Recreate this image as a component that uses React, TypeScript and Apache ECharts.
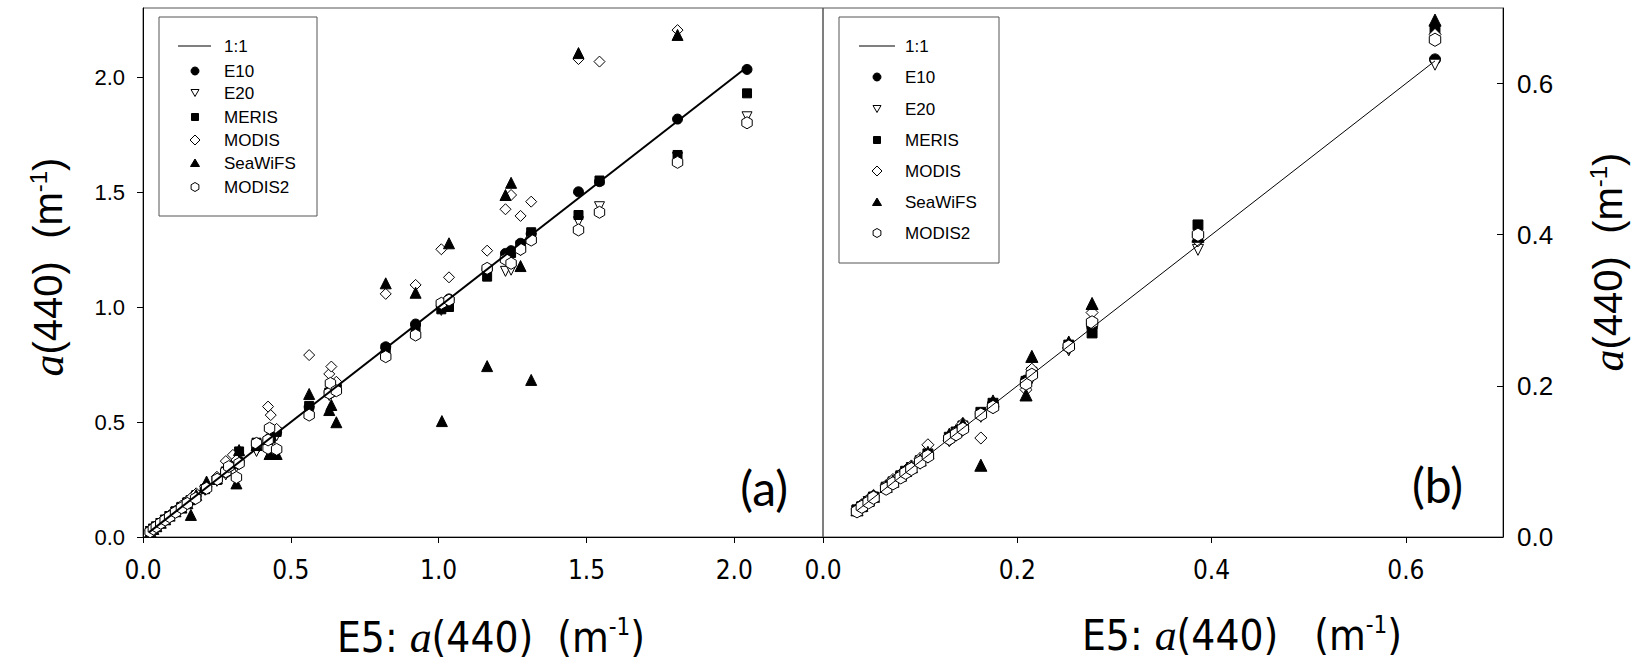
import React, { useEffect, useRef } from 'react';
import * as echarts from 'echarts';

// ---------- Panel (a) data: [E5 a(440), product a(440)] ----------
const lineA: number[][] = [[0.02, 0.02], [2.04, 2.04]];
const e10A: number[][] = [[0.025,0.025],[0.035,0.036],[0.045,0.046],[0.06,0.06],[0.075,0.076],[0.09,0.09],[0.11,0.11],[0.13,0.13],[0.15,0.15],[0.162,0.163],[0.18,0.18],[0.21,0.21],[0.25,0.25],[0.28,0.28],[0.316,0.316],[0.325,0.33],[0.384,0.39],[0.423,0.42],[0.432,0.43],[0.452,0.455],[0.562,0.565],[0.63,0.63],[0.637,0.64],[0.654,0.655],[0.821,0.827],[0.922,0.926],[1.009,1.0],[1.035,1.035],[1.164,1.165],[1.226,1.233],[1.245,1.245],[1.277,1.277],[1.313,1.318],[1.473,1.501],[1.544,1.545],[1.808,1.817],[2.043,2.033]];
const e20A: number[][] = [[0.025,0.024],[0.035,0.034],[0.045,0.044],[0.06,0.058],[0.075,0.073],[0.09,0.088],[0.11,0.107],[0.13,0.126],[0.15,0.145],[0.162,0.157],[0.18,0.174],[0.21,0.203],[0.25,0.242],[0.28,0.27],[0.316,0.305],[0.325,0.315],[0.384,0.372],[0.423,0.41],[0.432,0.418],[0.452,0.44],[0.562,0.548],[0.63,0.615],[0.637,0.622],[0.654,0.64],[0.821,0.80],[0.922,0.90],[1.009,0.985],[1.035,1.01],[1.164,1.14],[1.226,1.155],[1.245,1.16],[1.277,1.245],[1.313,1.30],[1.473,1.371],[1.544,1.436],[1.808,1.65],[2.043,1.827]];
const merisA: number[][] = [[0.025,0.026],[0.035,0.036],[0.045,0.045],[0.06,0.061],[0.075,0.075],[0.09,0.091],[0.11,0.112],[0.13,0.131],[0.15,0.151],[0.162,0.16],[0.18,0.182],[0.21,0.208],[0.25,0.248],[0.28,0.285],[0.316,0.318],[0.325,0.372],[0.384,0.41],[0.423,0.415],[0.432,0.428],[0.452,0.457],[0.562,0.57],[0.63,0.628],[0.637,0.632],[0.654,0.648],[0.821,0.82],[0.922,0.912],[1.009,0.99],[1.035,1.0],[1.164,1.132],[1.226,1.22],[1.245,1.235],[1.277,1.27],[1.313,1.325],[1.473,1.40],[1.544,1.55],[1.808,1.661],[2.043,1.929]];
const modisA: number[][] = [[0.025,0.027],[0.035,0.04],[0.045,0.05],[0.06,0.064],[0.075,0.08],[0.09,0.095],[0.11,0.115],[0.13,0.137],[0.15,0.158],[0.162,0.17],[0.18,0.19],[0.21,0.22],[0.25,0.262],[0.28,0.33],[0.304,0.357],[0.316,0.335],[0.384,0.40],[0.423,0.567],[0.432,0.53],[0.452,0.47],[0.562,0.791],[0.63,0.709],[0.637,0.741],[0.654,0.675],[0.821,1.057],[0.922,1.096],[1.009,1.251],[1.035,1.129],[1.164,1.245],[1.226,1.425],[1.245,1.487],[1.277,1.396],[1.313,1.458],[1.473,2.078],[1.544,2.067],[1.808,2.204]];
const seawifsA: number[][] = [[0.025,0.025],[0.035,0.035],[0.045,0.047],[0.06,0.062],[0.075,0.077],[0.09,0.093],[0.11,0.112],[0.13,0.128],[0.15,0.147],[0.162,0.096],[0.18,0.183],[0.215,0.241],[0.25,0.255],[0.28,0.30],[0.316,0.233],[0.325,0.378],[0.384,0.40],[0.428,0.361],[0.452,0.361],[0.562,0.622],[0.63,0.552],[0.637,0.574],[0.654,0.499],[0.821,1.103],[0.922,1.062],[1.011,0.504],[1.035,1.277],[1.164,0.743],[1.226,1.487],[1.245,1.54],[1.277,1.178],[1.313,0.683],[1.473,2.104],[1.808,2.183]];
const modis2A: number[][] = [[0.024,0.023],[0.035,0.035],[0.045,0.045],[0.06,0.06],[0.075,0.074],[0.09,0.088],[0.11,0.108],[0.13,0.127],[0.15,0.146],[0.178,0.168],[0.215,0.212],[0.251,0.251],[0.28,0.284],[0.29,0.306],[0.316,0.259],[0.325,0.32],[0.384,0.407],[0.423,0.386],[0.423,0.422],[0.428,0.473],[0.452,0.381],[0.562,0.53],[0.63,0.625],[0.634,0.668],[0.654,0.636],[0.821,0.784],[0.922,0.878],[1.009,1.016],[1.035,1.03],[1.164,1.168],[1.226,1.207],[1.245,1.19],[1.277,1.251],[1.313,1.291],[1.473,1.335],[1.544,1.412],[1.808,1.629],[2.043,1.801]];

// ---------- Panel (b) data ----------
const lineB: number[][] = [[0.035, 0.035], [0.63, 0.63]];
const e10B: number[][] = [[0.035,0.035],[0.04,0.041],[0.047,0.048],[0.052,0.053],[0.065,0.066],[0.072,0.072],[0.08,0.081],[0.085,0.086],[0.091,0.092],[0.1,0.1],[0.108,0.109],[0.13,0.131],[0.137,0.138],[0.144,0.146],[0.1625,0.163],[0.175,0.176],[0.209,0.207],[0.215,0.216],[0.253,0.253],[0.277,0.279],[0.386,0.40],[0.63,0.632]];
const e20B: number[][] = [[0.035,0.034],[0.04,0.039],[0.047,0.046],[0.052,0.051],[0.065,0.063],[0.072,0.07],[0.08,0.078],[0.085,0.083],[0.091,0.089],[0.1,0.097],[0.108,0.105],[0.13,0.127],[0.137,0.134],[0.144,0.141],[0.1625,0.159],[0.175,0.171],[0.209,0.20],[0.215,0.21],[0.253,0.247],[0.277,0.275],[0.386,0.38],[0.63,0.625]];
const merisB: number[][] = [[0.035,0.036],[0.04,0.04],[0.047,0.047],[0.052,0.053],[0.065,0.066],[0.072,0.073],[0.08,0.081],[0.085,0.087],[0.091,0.092],[0.1,0.101],[0.108,0.11],[0.13,0.132],[0.137,0.139],[0.144,0.147],[0.1625,0.165],[0.175,0.177],[0.209,0.206],[0.215,0.218],[0.253,0.254],[0.277,0.27],[0.386,0.413],[0.63,0.672]];
const modisB: number[][] = [[0.035,0.037],[0.04,0.043],[0.047,0.05],[0.052,0.055],[0.065,0.068],[0.072,0.076],[0.08,0.083],[0.085,0.088],[0.091,0.094],[0.1,0.104],[0.108,0.122],[0.13,0.128],[0.137,0.14],[0.144,0.15],[0.1625,0.131],[0.175,0.172],[0.209,0.195],[0.215,0.222],[0.253,0.25],[0.277,0.297],[0.386,0.392],[0.63,0.665]];
const seawifsB: number[][] = [[0.035,0.036],[0.04,0.042],[0.047,0.049],[0.052,0.054],[0.065,0.067],[0.072,0.074],[0.08,0.082],[0.085,0.088],[0.091,0.093],[0.1,0.102],[0.108,0.112],[0.13,0.136],[0.137,0.141],[0.144,0.15],[0.1625,0.095],[0.175,0.18],[0.209,0.188],[0.215,0.239],[0.253,0.258],[0.277,0.309],[0.386,0.398],[0.63,0.684]];
const modis2B: number[][] = [[0.035,0.034],[0.04,0.04],[0.047,0.046],[0.052,0.052],[0.065,0.064],[0.072,0.071],[0.08,0.079],[0.085,0.085],[0.091,0.09],[0.1,0.099],[0.108,0.107],[0.13,0.13],[0.137,0.136],[0.144,0.143],[0.1625,0.162],[0.175,0.172],[0.209,0.203],[0.215,0.2146],[0.253,0.252],[0.277,0.284],[0.386,0.40],[0.63,0.658]];

const xTicksA = [0, 0.5, 1.0, 1.5, 2.0];
const yTicksA = [0, 0.5, 1.0, 1.5, 2.0];
const xTicksB = [0, 0.2, 0.4, 0.6];
const yTicksB = [0, 0.2, 0.4, 0.6];
const legendNames = ['E10', 'E20', 'MERIS', 'MODIS', 'SeaWiFS', 'MODIS2'];

const HEX = 'path://M0,-10L8.66,-5L8.66,5L0,10L-8.66,5L-8.66,-5Z';
const SANS = "'Liberation Sans', Arial, sans-serif";
const NARROW = "'Liberation Sans Narrow', 'DejaVu Sans Condensed', 'Liberation Sans', sans-serif";
const SERIF = "'Liberation Serif', 'Times New Roman', serif";

type Sym = { symbol: string; filled: boolean; rotate?: number };
const SYMS: Sym[] = [
  { symbol: 'circle', filled: true },
  { symbol: 'triangle', filled: false, rotate: 180 },
  { symbol: 'rect', filled: true },
  { symbol: 'diamond', filled: false },
  { symbol: 'triangle', filled: true },
  { symbol: HEX, filled: false },
];
const SIZES = [10, 10, 9, 11, 11, 12];

function scatter(i: number, data: number[][], panel: number, scale: number) {
  const s = SYMS[i];
  return {
    type: 'scatter',
    name: legendNames[i],
    xAxisIndex: panel,
    yAxisIndex: panel,
    data,
    symbol: s.symbol,
    symbolSize: SIZES[i] * scale,
    symbolRotate: s.rotate || 0,
    symbolKeepAspect: true,
    silent: true,
    z: 2 + i,
    itemStyle: { color: s.filled ? '#000' : '#fff', borderColor: '#000', borderWidth: 1, opacity: 1 },
  };
}

function lineSeries(data: number[][], panel: number, width: number) {
  return {
    type: 'line',
    name: '1:1',
    xAxisIndex: panel,
    yAxisIndex: panel,
    data,
    showSymbol: false,
    symbol: 'none',
    silent: true,
    z: 10,
    lineStyle: { color: '#000', width },
  };
}

function legendGraphic(bx: number, by: number, bw: number, bh: number, lineX0: number, lineX1: number, symX: number, textX: number, rows: number[]) {
  const els: any[] = [];
  els.push({ type: 'rect', shape: { x: bx, y: by, width: bw, height: bh }, style: { fill: '#fff', stroke: '#555', lineWidth: 1 }, z: 100 });
  els.push({ type: 'line', shape: { x1: lineX0, y1: rows[0], x2: lineX1, y2: rows[0] }, style: { stroke: '#000', lineWidth: 1.2 }, z: 101 });
  els.push({ type: 'text', x: textX, y: rows[0], style: { text: '1:1', font: `17px ${SANS}`, fill: '#000', verticalAlign: 'middle' }, z: 101 });
  const r = 4;
  legendNames.forEach((n, k) => {
    const y = rows[k + 1];
    const st = { fill: SYMS[k].filled ? '#000' : '#fff', stroke: '#000', lineWidth: 1 };
    let el: any;
    if (k === 0) el = { type: 'circle', shape: { cx: symX, cy: y, r: 4 }, style: st };
    else if (k === 1) el = { type: 'polygon', shape: { points: [[symX - r, y - 3.5], [symX + r, y - 3.5], [symX, y + 3.5]] }, style: st };
    else if (k === 2) el = { type: 'rect', shape: { x: symX - 3.5, y: y - 3.5, width: 7, height: 7 }, style: st };
    else if (k === 3) el = { type: 'polygon', shape: { points: [[symX, y - 5], [symX + 5, y], [symX, y + 5], [symX - 5, y]] }, style: st };
    else if (k === 4) el = { type: 'polygon', shape: { points: [[symX, y - 4], [symX + 4.5, y + 3.5], [symX - 4.5, y + 3.5]] }, style: st };
    else el = { type: 'polygon', shape: { points: [[symX, y - 4.5], [symX + 3.9, y - 2.25], [symX + 3.9, y + 2.25], [symX, y + 4.5], [symX - 3.9, y + 2.25], [symX - 3.9, y - 2.25]] }, style: st };
    el.z = 101;
    els.push(el);
    els.push({ type: 'text', x: textX, y, style: { text: n, font: `17px ${SANS}`, fill: '#000', verticalAlign: 'middle' }, z: 101 });
  });
  return els;
}

const yTitleRich = {
  n: { fontFamily: SANS, fontSize: 40, fill: '#000', color: '#000' },
  i: { fontFamily: SERIF, fontStyle: 'italic', fontSize: 44, color: '#000' },
  s: { fontFamily: SANS, fontSize: 24, color: '#000', verticalAlign: 'top', padding: [0, 0, 18, 0] },
};
const xTitleRich = {
  n: { fontFamily: NARROW, fontSize: 42, color: '#000' },
  i: { fontFamily: SERIF, fontStyle: 'italic', fontSize: 44, color: '#000' },
  s: { fontFamily: NARROW, fontSize: 24, color: '#000', verticalAlign: 'top', padding: [0, 0, 18, 0] },
};

const axisCommon = {
  type: 'value',
  splitLine: { show: false },
  axisLine: { show: true, onZero: false, lineStyle: { color: '#000', width: 1 } },
};

const option: any = {
  animation: false,
  backgroundColor: '#fff',
  grid: [
    { left: 143, top: 8, width: 680, height: 529, show: true, borderColor: '#555', borderWidth: 1, backgroundColor: 'transparent' },
    { left: 823, top: 8, width: 680, height: 529, show: true, borderColor: '#555', borderWidth: 1, backgroundColor: 'transparent' },
  ],
  xAxis: [
    {
      ...axisCommon, gridIndex: 0, min: 0, max: 2.3, interval: 0.5,
      axisTick: { show: true, inside: false, length: 6, customValues: xTicksA, lineStyle: { color: '#000' } },
      axisLabel: { customValues: xTicksA, fontFamily: NARROW, fontSize: 26, color: '#000', margin: 20, formatter: (v: number) => v.toFixed(1) },
    },
    {
      ...axisCommon, gridIndex: 1, min: 0, max: 0.7, interval: 0.2,
      axisTick: { show: true, inside: false, length: 6, customValues: xTicksB, lineStyle: { color: '#000' } },
      axisLabel: { customValues: xTicksB, fontFamily: NARROW, fontSize: 26, color: '#000', margin: 20, formatter: (v: number) => v.toFixed(1) },
    },
  ],
  yAxis: [
    {
      ...axisCommon, gridIndex: 0, position: 'left', min: 0, max: 2.3, interval: 0.5,
      axisTick: { show: true, inside: false, length: 6, customValues: yTicksA, lineStyle: { color: '#000' } },
      axisLabel: { customValues: yTicksA, fontFamily: SANS, fontSize: 22, color: '#000', margin: 18, formatter: (v: number) => v.toFixed(1) },
    },
    {
      ...axisCommon, gridIndex: 1, position: 'right', min: 0, max: 0.7, interval: 0.2,
      axisTick: { show: true, inside: true, length: 6, customValues: yTicksB, lineStyle: { color: '#000' } },
      axisLabel: { customValues: yTicksB, fontFamily: SANS, fontSize: 26, color: '#000', margin: 14, formatter: (v: number) => v.toFixed(1) },
    },
  ],
  series: [
    scatter(0, e10A, 0, 1), scatter(1, e20A, 0, 1), scatter(2, merisA, 0, 1), scatter(3, modisA, 0, 1), scatter(4, seawifsA, 0, 1), scatter(5, modis2A, 0, 1),
    lineSeries(lineA, 0, 2),
    scatter(0, e10B, 1, 1.1), scatter(1, e20B, 1, 1.1), scatter(2, merisB, 1, 1.1), scatter(3, modisB, 1, 1.1), scatter(4, seawifsB, 1, 1.1), scatter(5, modis2B, 1, 1.1),
    lineSeries(lineB, 1, 1),
  ],
  graphic: [
    ...legendGraphic(159, 17, 158, 199, 178, 211, 195, 224, [46, 71, 93, 117, 140, 163, 187]),
    ...legendGraphic(839, 17, 160, 246, 859, 895, 877, 905, [46, 77, 109, 140, 171, 202, 233]),
    { type: 'text', x: 788, y: 487, style: { text: '(a)', font: `48px Lato, 'Open Sans', sans-serif`, fill: '#000', align: 'right', verticalAlign: 'middle' }, z: 50 },
    { type: 'text', x: 1463, y: 484, style: { text: '(b)', font: `48px Lato, 'Open Sans', sans-serif`, fill: '#000', align: 'right', verticalAlign: 'middle' }, z: 50 },
    { type: 'text', x: 48, y: 267, rotation: Math.PI / 2, style: { text: '{i|a}{n|(440)  (m}{s|-1}{n|)}', rich: yTitleRich, align: 'center', verticalAlign: 'middle', fill: '#000' }, z: 50 },
    { type: 'text', x: 1608, y: 262, rotation: Math.PI / 2, style: { text: '{i|a}{n|(440)  (m}{s|-1}{n|)}', rich: yTitleRich, align: 'center', verticalAlign: 'middle', fill: '#000' }, z: 50 },
    { type: 'text', x: 491, y: 637, style: { text: '{n|E5: }{i|a}{n|(440)  (m}{s|-1}{n|)}', rich: xTitleRich, align: 'center', verticalAlign: 'middle', fill: '#000' }, z: 50 },
    { type: 'text', x: 1242, y: 635, style: { text: '{n|E5: }{i|a}{n|(440)   (m}{s|-1}{n|)}', rich: xTitleRich, align: 'center', verticalAlign: 'middle', fill: '#000' }, z: 50 },
  ],
};

export default function App() {
  const ref = useRef<HTMLDivElement>(null);
  useEffect(() => {
    const chart = echarts.init(ref.current!, null, { renderer: 'svg' });
    chart.setOption(option);
    return () => chart.dispose();
  }, []);
  return <div ref={ref} style={{ position: 'fixed', left: 0, top: 0, width: 1651, height: 665, background: '#fff' }} />;
}
